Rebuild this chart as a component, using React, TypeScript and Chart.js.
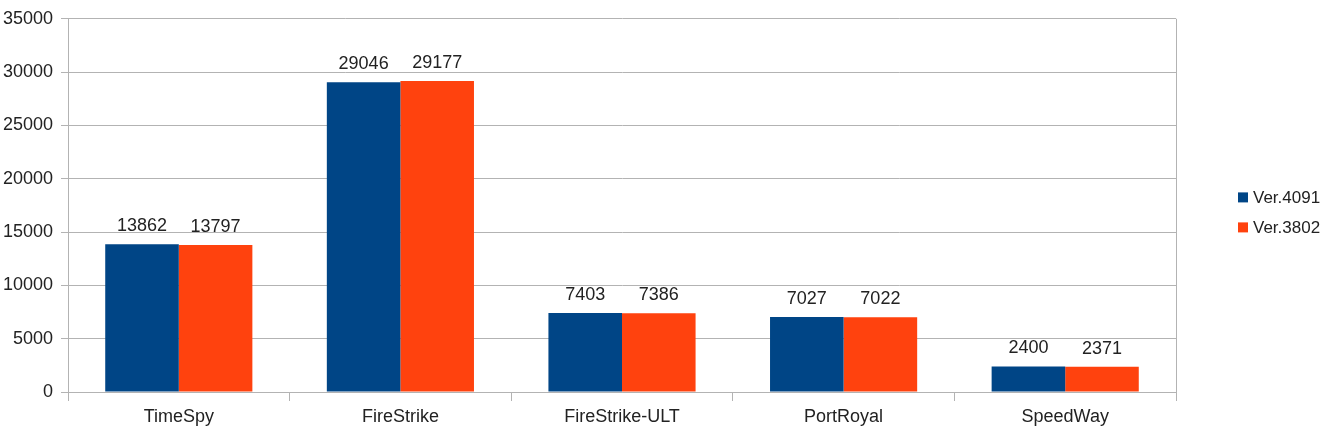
import React, { useEffect, useRef } from "react";
import { Chart, registerables } from "chart.js";

Chart.register(...registerables);

const categories = ["TimeSpy", "FireStrike", "FireStrike-ULT", "PortRoyal", "SpeedWay"];
const seriesNames = ["Ver.4091", "Ver.3802"];
const ver4091 = [13862, 29046, 7403, 7027, 2400];
const ver3802 = [13797, 29177, 7386, 7022, 2371];
const seriesColors = ["#004586", "#ff420e"];
const yMin = 0;
const yMax = 35000;
const yStep = 5000;

const FONT = "'Liberation Sans', Arial, sans-serif";
const GRID = "#b3b3b3";
const TEXT = "#222222";

const valueLabels = {
  id: "valueLabels",
  afterDatasetsDraw(chart: any) {
    const ctx = chart.ctx;
    ctx.save();
    ctx.font = `18px ${FONT}`;
    ctx.fillStyle = TEXT;
    ctx.textAlign = "center";
    ctx.textBaseline = "bottom";
    chart.data.datasets.forEach((ds: any, di: number) => {
      const meta = chart.getDatasetMeta(di);
      meta.data.forEach((el: any, i: number) => {
        ctx.fillText(String(ds.data[i]), el.x, el.y - 9);
      });
    });
    ctx.restore();
  },
};

const frameAndLegend = {
  id: "frameAndLegend",
  afterDraw(chart: any) {
    const ctx = chart.ctx;
    const a = chart.chartArea;
    ctx.save();
    ctx.strokeStyle = GRID;
    ctx.lineWidth = 1;
    ctx.beginPath();
    const rx = Math.round(a.right) + 0.5;
    ctx.moveTo(rx, a.top);
    ctx.lineTo(rx, a.bottom + 9);
    ctx.stroke();

    // legend
    const lx = a.right + 62;
    const midY = (a.top + a.bottom) / 2;
    const rowGap = 30;
    ctx.font = `17px ${FONT}`;
    ctx.textAlign = "left";
    ctx.textBaseline = "middle";
    chart.data.datasets.forEach((ds: any, i: number) => {
      const cy = midY - rowGap / 2 + i * rowGap + 7;
      ctx.fillStyle = ds.backgroundColor;
      ctx.fillRect(lx, cy - 5, 10, 10);
      ctx.fillStyle = TEXT;
      ctx.fillText(ds.label, lx + 15, cy + 1);
    });
    ctx.restore();
  },
};

export default function App() {
  const ref = useRef<HTMLCanvasElement | null>(null);

  useEffect(() => {
    document.body.style.margin = "0";
    if (!ref.current) return;
    const chart = new Chart(ref.current, {
      type: "bar",
      data: {
        labels: categories,
        datasets: [
          { label: seriesNames[0], data: ver4091, backgroundColor: seriesColors[0] },
          { label: seriesNames[1], data: ver3802, backgroundColor: seriesColors[1] },
        ],
      },
      options: {
        animation: false,
        responsive: true,
        maintainAspectRatio: false,
        layout: { padding: { left: 0, right: 161, top: 16, bottom: 0 } },
        plugins: {
          legend: { display: false },
          tooltip: { enabled: false },
        },
        datasets: {
          bar: { categoryPercentage: 0.664, barPercentage: 1.0 },
        },
        scales: {
          x: {
            grid: {
              display: true,
              drawOnChartArea: false,
              drawTicks: true,
              tickLength: 9,
              color: GRID,
              tickColor: GRID,
              offset: true,
            },
            border: { display: true, color: GRID },
            ticks: {
              color: TEXT,
              font: { family: FONT, size: 18 },
              padding: 5,
            },
            afterFit(scale: any) {
              scale.height = 43;
            },
          },
          y: {
            min: yMin,
            max: yMax,
            grid: {
              color: GRID,
              tickColor: GRID,
              tickLength: 7,
              drawTicks: true,
            },
            border: { display: true, color: GRID },
            ticks: {
              stepSize: yStep,
              color: TEXT,
              font: { family: FONT, size: 18 },
              padding: 8,
              callback: (v: any) => String(v),
            },
            afterFit(scale: any) {
              scale.width = 68;
            },
          },
        },
      },
      plugins: [valueLabels, frameAndLegend],
    });
    return () => chart.destroy();
  }, []);

  return (
    <div style={{ position: "fixed", left: 0, top: 0, width: 1337, height: 435, background: "#fff" }}>
      <canvas ref={ref} />
    </div>
  );
}
